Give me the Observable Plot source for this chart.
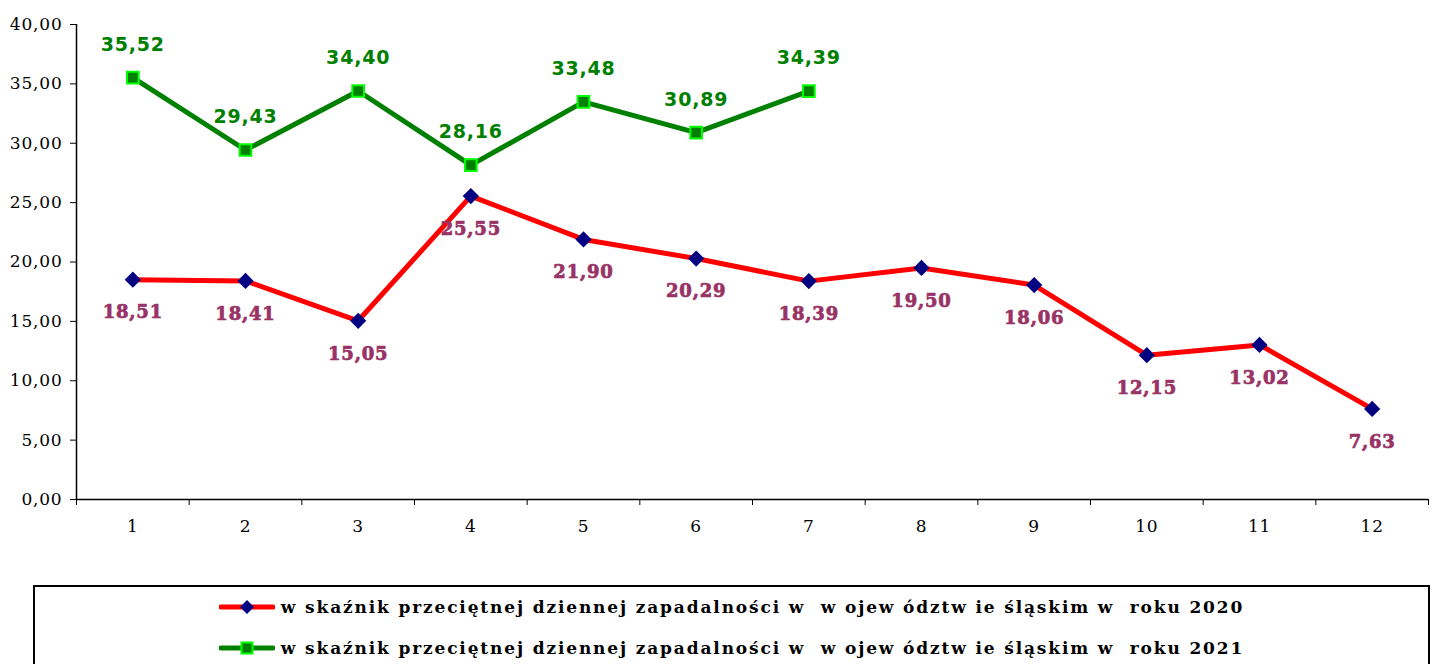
<!DOCTYPE html>
<html>
<head>
<meta charset="utf-8">
<script src="https://cdn.jsdelivr.net/npm/d3@7"></script>
<script src="https://cdn.jsdelivr.net/npm/@observablehq/plot@0.6"></script>
<style>
  body { margin: 0; background: #fff; }
  #chart svg { display: block; }
  .legend {
    position: relative; margin-left: 33px; width: 1397px; height: 100px;
    border: 2px solid #000; box-sizing: border-box;
    font-family: "DejaVu Serif", serif; font-weight: bold; font-size: 17px; letter-spacing: 1.85px;
  }
  .row { display: flex; align-items: center; justify-content: center; height: 41px; }
  .row:first-child { margin-top: -1px; }
  .row svg { margin-right: 6px; }
</style>
</head>
<body>
<div id="chart"></div>
<div class="legend" id="legend"></div>
<script>
const months = [1, 2, 3, 4, 5, 6, 7, 8, 9, 10, 11, 12];
const values2020 = [18.51, 18.41, 15.05, 25.55, 21.90, 20.29, 18.39, 19.50, 18.06, 12.15, 13.02, 7.63];
const months2021 = [1, 2, 3, 4, 5, 6, 7];
const values2021 = [35.52, 29.43, 34.40, 28.16, 33.48, 30.89, 34.39];
const yTicks = [0, 5, 10, 15, 20, 25, 30, 35, 40];
const label2020 = "w skaźnik przeciętnej dziennej zapadalności w  w ojew ództw ie śląskim w  roku 2020";
const label2021 = "w skaźnik przeciętnej dziennej zapadalności w  w ojew ództw ie śląskim w  roku 2021";

const data2020 = months.map((m, i) => ({month: m, value: values2020[i]}));
const data2021 = months2021.map((m, i) => ({month: m, value: values2021[i]}));
const fmt = v => d3.format(".2f")(v).replace(".", ",");
const bounds = d3.range(0.5, months.length + 1, 1);

const chart = Plot.plot({
  width: 1444,
  height: 585,
  marginLeft: 76,
  marginRight: 16,
  marginTop: 24,
  marginBottom: 86,
  style: {fontFamily: "DejaVu Serif, serif", fontSize: "16px", color: "#000", background: "#fff", letterSpacing: "0.8px"},
  x: {domain: [0.5, 12.5]},
  y: {domain: [0, 40]},
  marks: [
    Plot.axisY({ticks: yTicks, tickFormat: fmt, tickSize: 6, tickPadding: 8, label: null, fontSize: 17}),
    Plot.axisX({ticks: bounds, tickFormat: () => "", tickSize: 6, label: null}),
    Plot.axisX({ticks: months, tickFormat: d => String(d), tickSize: 0, tickPadding: 20, label: null, fontSize: 17}),
    Plot.ruleY([0], {stroke: "#000", strokeWidth: 1.5}),
    Plot.ruleX([0.5], {y1: 0, y2: 40, stroke: "#000", strokeWidth: 1.5}),
    Plot.line(data2020, {x: "month", y: "value", stroke: "#ff0000", strokeWidth: 5}),
    Plot.dot(data2020, {x: "month", y: "value", symbol: "diamond2", r: 7.3, fill: "#000080", stroke: "none"}),
    Plot.text(data2020, {x: "month", y: "value", text: d => fmt(d.value), dy: 33, fill: "#993366",
      stroke: "#993366", strokeWidth: 0.7,
      fontFamily: "DejaVu Serif, serif", fontWeight: "bold", fontSize: 18}),
    Plot.line(data2021, {x: "month", y: "value", stroke: "#008000", strokeWidth: 5}),
    Plot.dot(data2021, {x: "month", y: "value", symbol: "square", r: 6.6, fill: "#008000", stroke: "#00ff00", strokeWidth: 2}),
    Plot.text(data2021, {x: "month", y: "value", text: d => fmt(d.value), dy: -33, fill: "#008000",
      fontFamily: "DejaVu Sans, sans-serif", fontWeight: "bold", fontSize: 19})
  ]
});
document.getElementById("chart").appendChild(chart);

function swatch(color, markerSvg) {
  return `<svg width="56" height="16" viewBox="0 0 56 16"><line x1="2" y1="8" x2="54" y2="8" stroke="${color}" stroke-width="5" stroke-linecap="round"/>${markerSvg}</svg>`;
}
const legend = document.getElementById("legend");
legend.innerHTML =
  `<div class="row">${swatch("#ff0000", '<path d="M28 1 L35 8 L28 15 L21 8 Z" fill="#000080"/>')}<span>${label2020}</span></div>` +
  `<div class="row">${swatch("#008000", '<rect x="22.5" y="2.5" width="11" height="11" fill="#008000" stroke="#00ff00" stroke-width="2"/>')}<span>${label2021}</span></div>`;
legend.querySelectorAll("span").forEach(s => s.style.whiteSpace = "pre");
</script>
</body>
</html>
